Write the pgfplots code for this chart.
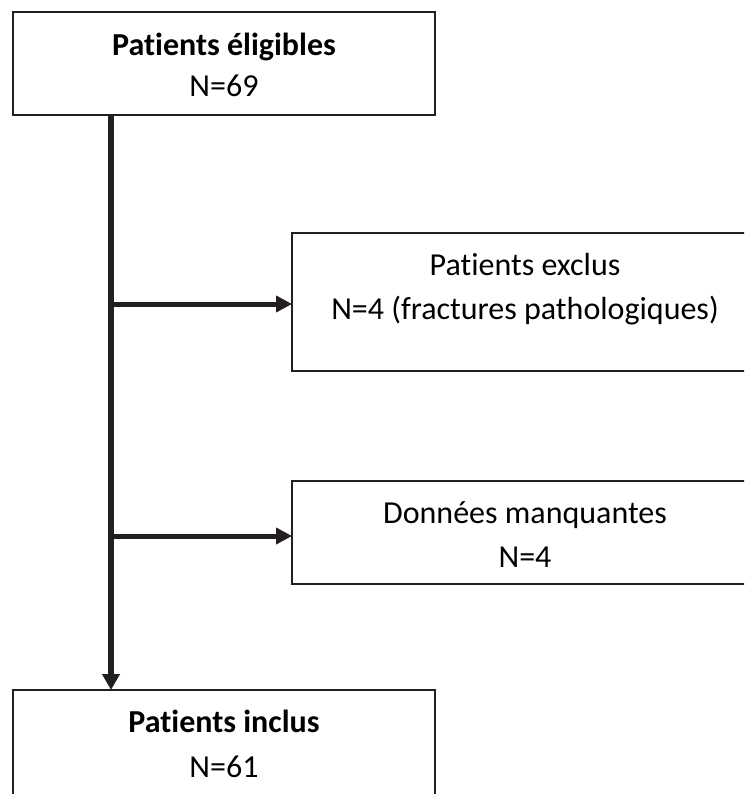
\documentclass[border=0pt]{standalone}
\usepackage{fontspec}
\setmainfont{Carlito}[Ligatures=NoCommon]
\usepackage{pgfplots}
\pgfplotsset{compat=1.18}
\usetikzlibrary{arrows.meta}
\definecolor{ln}{HTML}{231F20}
\begin{document}
\begin{tikzpicture}
\begin{axis}[name=ax, width=744pt, height=794pt, scale only axis,
  xmin=0, xmax=744, ymin=0, ymax=794, y dir=reverse, hide axis, clip=true]
% boxes
\draw[ln, line width=2.6pt] (axis cs:13,12) rectangle (axis cs:435,115);
\draw[ln, line width=2.6pt] (axis cs:292,233) rectangle (axis cs:760,371);
\draw[ln, line width=2.6pt] (axis cs:292,481) rectangle (axis cs:760,584);
\draw[ln, line width=2.6pt] (axis cs:13,690) rectangle (axis cs:435,810);
% connectors
\addplot[ln, line width=5.5pt, -{Triangle[length=16pt,width=17pt]}] coordinates {(111,115) (111,690)};
\addplot[ln, line width=5pt, -{Triangle[length=16pt,width=16pt]}] coordinates {(111,304) (292,304)};
\addplot[ln, line width=5pt, -{Triangle[length=16pt,width=16pt]}] coordinates {(111,536) (292,536)};
% text
\begin{scope}[every node/.style={anchor=base, inner sep=0pt, font=\fontsize{32}{38}\selectfont}]
\node at (axis cs:224,56) {\bfseries Patients éligibles};
\node at (axis cs:224,97) {N=69};
\node at (axis cs:525,275) {Patients exclus};
\node at (axis cs:525,319) {N=4 (fractures pathologiques)};
\node at (axis cs:525,523) {Données manquantes};
\node at (axis cs:525,567) {N=4};
\node at (axis cs:224,732) {\bfseries Patients inclus};
\node at (axis cs:224,777) {N=61};
\end{scope}
\end{axis}
\pgfresetboundingbox
\path[use as bounding box] (ax.south west) rectangle (ax.north east);
\end{tikzpicture}
\end{document}
